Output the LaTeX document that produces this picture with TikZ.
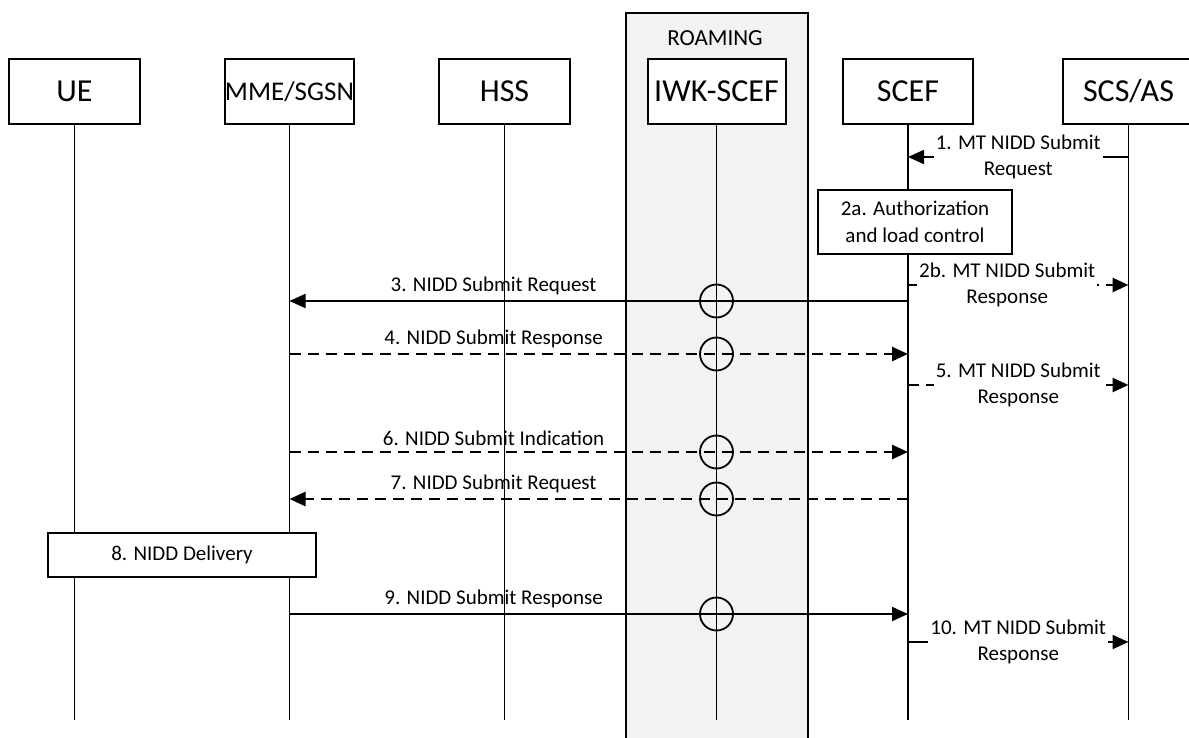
\documentclass[tikz,border=0pt]{standalone}
\usepackage{fontspec}
\setmainfont{Carlito}
\usetikzlibrary{arrows.meta,positioning}
\definecolor{roamgray}{HTML}{F2F2F2}

\begin{document}
\begin{tikzpicture}[
    x=1pt, y=-1pt,
    entity/.style={draw=black, fill=white, line width=2pt,
      minimum width=131pt, minimum height=65pt, inner sep=0pt,
      font=\fontsize{32}{36}\selectfont},
    procbox/.style={draw=black, fill=white, line width=2pt,
      align=center, inner sep=0pt, font=\fontsize{21}{27}\selectfont},
    lifeline/.style={line width=1.7pt},
    msg/.style={-{Triangle[length=16pt,width=14pt]}, line width=2pt},
    dmsg/.style={msg, line width=2.6pt, dash pattern=on 11pt off 7pt},
    lbl/.style={font=\fontsize{21}{26}\selectfont, inner sep=1pt},
    cutlbl/.style={lbl, fill=white, align=center, inner sep=2pt},
    hop/.style={draw=black, circle, line width=1.8pt,
      minimum size=33pt, inner sep=0pt}
  ]
    \path[use as bounding box, clip] (0,0) rectangle (1189,738);

    \node[draw=black, fill=roamgray, line width=1.8pt, anchor=north,
      minimum width=182pt, minimum height=760pt] (roam) at (717,12) {};
    \node[lbl, font=\fontsize{23}{26}\selectfont] (roamlbl) at (715,38) {ROAMING};

    \node[entity] (ue) at (74.5,91.5) {UE};
    \node[entity, minimum width=129pt, font=\fontsize{27}{30}\selectfont] (mme) at (289.5,91.5) {MME/SGSN};
    \node[entity] (hss) at (504.5,91.5) {HSS};
    \node[entity, minimum width=138pt] (iwk) at (716.5,91.5) {IWK-SCEF};
    \node[entity, minimum width=130pt] (scef) at (908,91.5) {SCEF};
    \node[entity] (scs) at (1128.5,91.5) {SCS/AS};

    \coordinate (bot) at (0,720);
    \coordinate (r1) at (0,157);
    \coordinate (r2) at (0,285);
    \coordinate (r3) at (0,301);
    \coordinate (r4) at (0,354);
    \coordinate (r5) at (0,385);
    \coordinate (r6) at (0,452);
    \coordinate (r7) at (0,499);
    \coordinate (r9) at (0,614);
    \coordinate (r10) at (0,642);

    \draw[lifeline] (ue.south) -- (ue |- bot);
    \draw[lifeline] (mme.south) -- (mme |- bot);
    \draw[lifeline] (hss.south) -- (hss |- bot);
    \draw[lifeline] (iwk.south) -- (iwk |- bot);
    \draw[lifeline] (scef.south) -- (scef |- bot);
    \draw[lifeline] (scs.south) -- (scs |- bot);

    \node[hop] (h3) at (iwk |- r3) {};
    \node[hop] (h4) at (iwk |- r4) {};
    \node[hop] (h6) at (iwk |- r6) {};
    \node[hop] (h7) at (iwk |- r7) {};
    \node[hop] (h9) at (iwk |- r9) {};

    \draw[msg] (scs |- r1) -- node[cutlbl] (l1) {1. MT NIDD Submit\\Request} (scef |- r1);
    \draw[dmsg] (scef |- r2) -- node[cutlbl, pos=0.45] (l2) {2b. MT NIDD Submit\\Response} (scs |- r2);
    \draw[msg] (scef |- r3) -- node[lbl, above=4pt, pos=0.67] (l3) {3. NIDD Submit Request} (mme |- r3);
    \draw[dmsg] (mme |- r4) -- node[lbl, above=4pt, pos=0.33] (l4) {4. NIDD Submit Response} (scef |- r4);
    \draw[dmsg] (scef |- r5) -- node[cutlbl] (l5) {5. MT NIDD Submit\\Response} (scs |- r5);
    \draw[dmsg] (mme |- r6) -- node[lbl, above=4pt, pos=0.33] (l6) {6. NIDD Submit Indication} (scef |- r6);
    \draw[dmsg] (scef |- r7) -- node[lbl, above=4pt, pos=0.67] (l7) {7. NIDD Submit Request} (mme |- r7);
    \draw[msg] (mme |- r9) -- node[lbl, above=4pt, pos=0.33] (l9) {9. NIDD Submit Response} (scef |- r9);
    \draw[msg] (scef |- r10) -- node[cutlbl] (l10) {10. MT NIDD Submit\\Response} (scs |- r10);

    \node[procbox, minimum width=194pt, minimum height=64pt] (auth) at (915,222) {2a. Authorization\\and load control};
    \node[procbox, minimum width=268pt, minimum height=44pt] (deliv) at (182,555) {8. NIDD Delivery};
  \end{tikzpicture}
\end{document}
